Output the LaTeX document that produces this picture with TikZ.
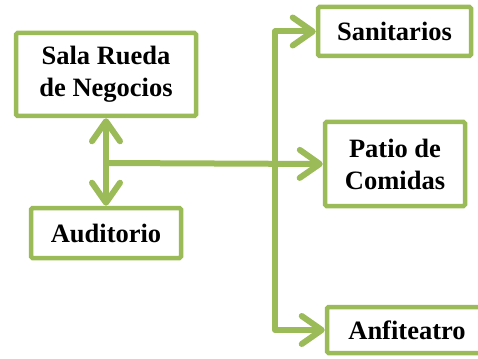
\documentclass[tikz,border=0pt]{standalone}
\usepackage{fontspec}
\newfontfamily\boxfont{Liberation Serif}
\usetikzlibrary{arrows.meta}
\definecolor{boxgreen}{HTML}{9BBB59}
\tikzset{
  greenbox/.style={draw=boxgreen, line width=4.5pt, fill=white, rounded corners=1.5pt,
    align=center, inner sep=0pt, font=\boxfont\bfseries\fontsize{26.5}{32}\selectfont},
  greenline/.style={draw=boxgreen, line width=6pt, line cap=round, line join=round},
  headone/.style={-{Straight Barb[length=20pt,width=28pt,round,line width=6pt]}},
  headtwo/.style={{Straight Barb[length=20pt,width=28pt,round,line width=6pt]}-{Straight Barb[length=20pt,width=28pt,round,line width=6pt]}},
}
\begin{document}
\begin{tikzpicture}[x=1pt,y=-1pt]
\useasboundingbox (0,0) rectangle (478,358);
\node[greenbox, minimum width=180pt, minimum height=83pt] (sala) at (106,74.5) {Sala Rueda\\de Negocios};
\node[greenbox, minimum width=150pt, minimum height=50pt] (aud) at (106,233) {Auditorio};
\node[greenbox, minimum width=153pt, minimum height=49pt] (san) at (394.5,31.5) {Sanitarios};
\node[greenbox, minimum width=140pt, minimum height=84pt] (pat) at (395,164) {Patio de\\Comidas};
\node[greenbox, minimum width=160pt, minimum height=46pt] (anf) at (407,330) {Anfiteatro};
\coordinate (j1) at (106,163);
\coordinate (tk) at (275,163);
\draw[greenline, headtwo] (sala) -- (aud);
\draw[greenline, headone] (j1) -- (pat.west);
\draw[greenline, headone] (tk) |- (san.west);
\draw[greenline, headone] (tk) |- (anf.west);
\end{tikzpicture}
\end{document}
